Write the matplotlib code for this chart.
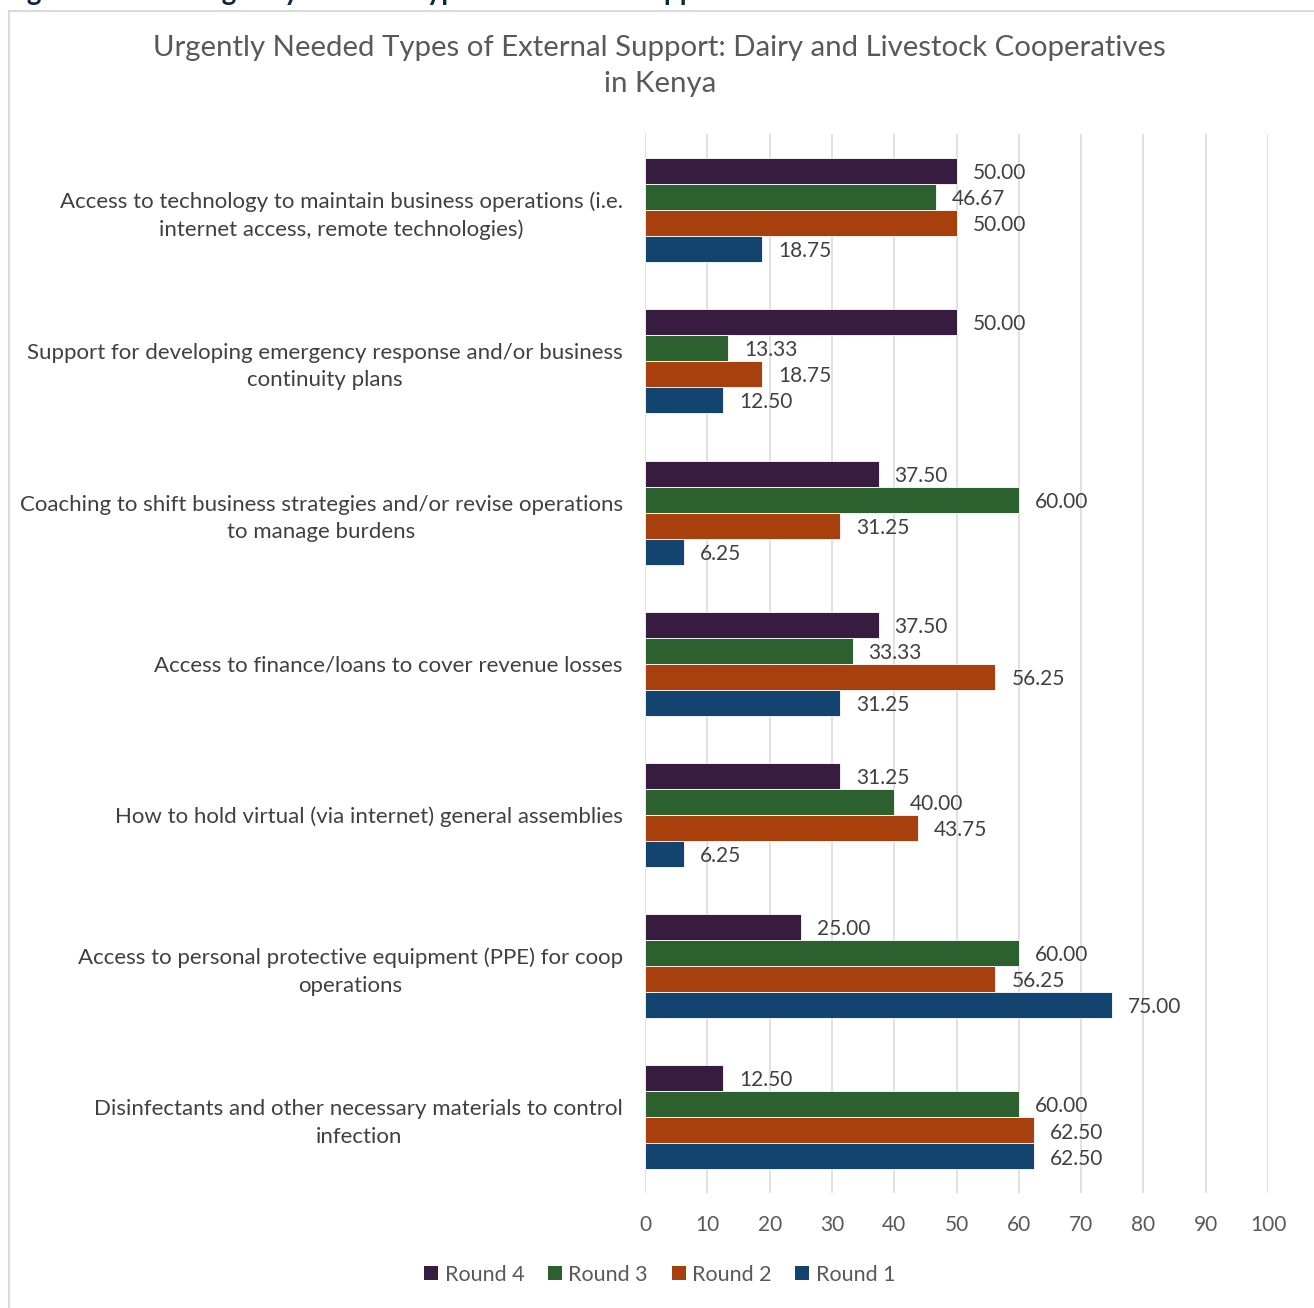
import matplotlib.pyplot as plt
import numpy as np
from matplotlib.patches import Patch

plt.rcParams['font.family'] = ['Lato', 'DejaVu Sans']

categories = [
    "Access to technology to maintain business operations (i.e.\ninternet access, remote technologies)",
    "Support for developing emergency response and/or business\ncontinuity plans",
    "Coaching to shift business strategies and/or revise operations\nto manage burdens",
    "Access to finance/loans to cover revenue losses",
    "How to hold virtual (via internet) general assemblies",
    "Access to personal protective equipment (PPE) for coop\noperations",
    "Disinfectants and other necessary materials to control\ninfection",
]
series_names = ["Round 4", "Round 3", "Round 2", "Round 1"]
round4 = [50.00, 50.00, 37.50, 37.50, 31.25, 25.00, 12.50]
round3 = [46.67, 13.33, 60.00, 33.33, 40.00, 60.00, 60.00]
round2 = [50.00, 18.75, 31.25, 56.25, 43.75, 56.25, 62.50]
round1 = [18.75, 12.50, 6.25, 31.25, 6.25, 75.00, 62.50]
colors = ["#371C40", "#2C602F", "#A8400E", "#134470"]

title = "Urgently Needed Types of External Support: Dairy and Livestock Cooperatives\nin Kenya"
caption = "Figure 4: Most Urgently Needed Types of External Support"

fig = plt.figure(figsize=(13.14, 13.08), dpi=100)
ax = fig.add_axes([0.4909, 0.0879, 0.4741, 0.8093])

y = np.arange(len(categories))
h = 0.172
series = [round4, round3, round2, round1]
for k, (vals, col) in enumerate(zip(series, colors)):
    pos = y + (k - 1.5) * h
    ax.barh(pos, vals, height=h, color=col, edgecolor="white", linewidth=0.6, zorder=3)
    for p, v in zip(pos, vals):
        ax.annotate(f"{v:.2f}", (v, p), xytext=(11.5, -1.5), textcoords="offset points",
                    va="center", ha="left", fontsize=15, color="#404040")

ax.set_xlim(0, 100)
ax.set_ylim(len(categories) - 0.5, -0.5)
ax.set_xticks(range(0, 101, 10))
ax.set_yticks(y)
ax.set_yticklabels(categories, fontsize=16, color="#404040", ha="right",
                   multialignment="center", linespacing=1.45)
ax.tick_params(axis="y", length=0, pad=16)
ax.tick_params(axis="x", length=0, pad=16, labelsize=15, labelcolor="#595959")
ax.grid(axis="x", color="#D9D9D9", linewidth=1.1, zorder=0)
for s in ax.spines.values():
    s.set_visible(False)

fig.text(0.502, 0.9495, title, ha="center", va="center", fontsize=21.2, color="#595959",
         linespacing=1.5)

handles = [Patch(facecolor=c, edgecolor="none") for c in colors]
fig.legend(handles, series_names, loc="center", bbox_to_anchor=(0.502, 0.0255), ncol=4,
           frameon=False, fontsize=15.5, labelcolor="#595959", handlelength=0.65,
           handleheight=0.65, handletextpad=0.3, columnspacing=1.1)

# frame around the chart area
fig.add_artist(plt.Line2D([0.0065, 0.0065], [0, 0.9915], color="#D9D9D9", linewidth=1.5))
fig.add_artist(plt.Line2D([0.0065, 1.0], [0.9915, 0.9915], color="#D9D9D9", linewidth=1.5))

# caption above, mostly cut off by the top edge
fig.text(0.003, 1.0, caption, ha="left", va="baseline", fontsize=20, fontweight="bold",
         color="#0E2841")

fig.savefig("out.png", dpi=100)
